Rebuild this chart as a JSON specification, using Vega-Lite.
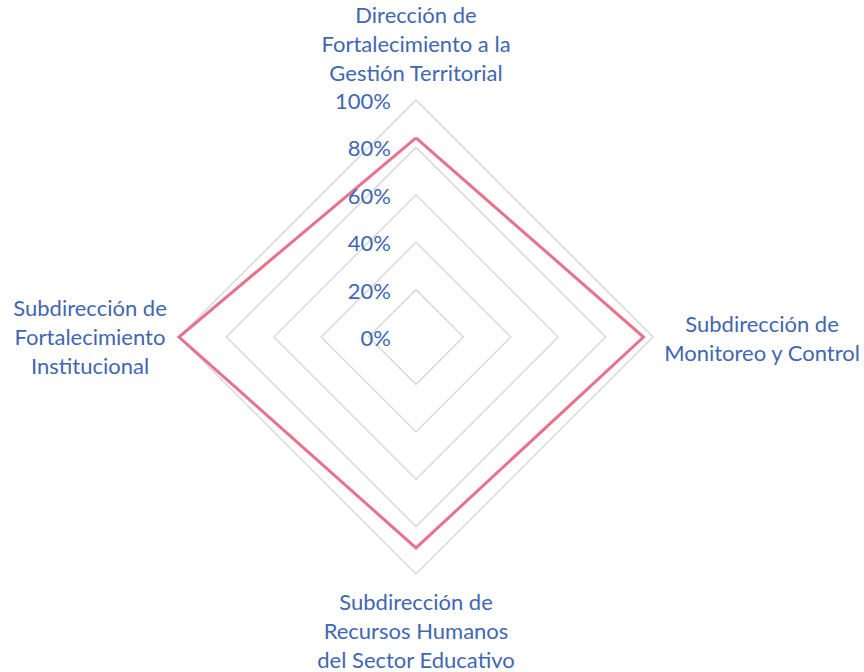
{
  "$schema": "https://vega.github.io/schema/vega-lite/v6.json",
  "autosize": "none",
  "width": 474,
  "height": 474,
  "padding": {"left": 179, "top": 100, "right": 211, "bottom": 98},
  "background": "white",
  "config": {"view": {"stroke": null}, "text": {"font": "Lato", "fontSize": 22, "color": "#3F67B2"}},
  "datasets": {
    "series": [
      {"area": "Dirección de\nFortalecimiento a la\nGestión Territorial", "idx": 0, "value": 0.84},
      {"area": "Subdirección de\nMonitoreo y Control", "idx": 1, "value": 0.96},
      {"area": "Subdirección de\nRecursos Humanos\ndel Sector Educativo", "idx": 2, "value": 0.89},
      {"area": "Subdirección de\nFortalecimiento\nInstitucional", "idx": 3, "value": 1.0},
      {"area": "Dirección de\nFortalecimiento a la\nGestión Territorial", "idx": 4, "value": 0.84}
    ],
    "grid": [
      {"level": 0.2, "idx": 0}, {"level": 0.2, "idx": 1}, {"level": 0.2, "idx": 2}, {"level": 0.2, "idx": 3}, {"level": 0.2, "idx": 4},
      {"level": 0.4, "idx": 0}, {"level": 0.4, "idx": 1}, {"level": 0.4, "idx": 2}, {"level": 0.4, "idx": 3}, {"level": 0.4, "idx": 4},
      {"level": 0.6, "idx": 0}, {"level": 0.6, "idx": 1}, {"level": 0.6, "idx": 2}, {"level": 0.6, "idx": 3}, {"level": 0.6, "idx": 4},
      {"level": 0.8, "idx": 0}, {"level": 0.8, "idx": 1}, {"level": 0.8, "idx": 2}, {"level": 0.8, "idx": 3}, {"level": 0.8, "idx": 4},
      {"level": 1.0, "idx": 0}, {"level": 1.0, "idx": 1}, {"level": 1.0, "idx": 2}, {"level": 1.0, "idx": 3}, {"level": 1.0, "idx": 4}
    ],
    "ticks": [
      {"level": 0}, {"level": 0.2}, {"level": 0.4}, {"level": 0.6}, {"level": 0.8}, {"level": 1.0}
    ]
  },
  "layer": [
    {
      "data": {"name": "grid"},
      "transform": [
        {"calculate": "datum.idx * PI / 2", "as": "angle"},
        {"calculate": "datum.level * sin(datum.angle)", "as": "x"},
        {"calculate": "datum.level * cos(datum.angle)", "as": "y"}
      ],
      "mark": {"type": "line", "stroke": "#D9D9D9", "strokeWidth": 1.5},
      "encoding": {
        "x": {"field": "x", "type": "quantitative", "scale": {"domain": [-1, 1], "nice": false, "zero": false}, "axis": null},
        "y": {"field": "y", "type": "quantitative", "scale": {"domain": [-1, 1], "nice": false, "zero": false}, "axis": null},
        "detail": {"field": "level"},
        "order": {"field": "idx"}
      }
    },
    {
      "data": {"name": "series"},
      "transform": [
        {"calculate": "datum.idx * PI / 2", "as": "angle"},
        {"calculate": "datum.value * sin(datum.angle)", "as": "x"},
        {"calculate": "datum.value * cos(datum.angle)", "as": "y"}
      ],
      "mark": {"type": "line", "stroke": "#E8718D", "strokeWidth": 3},
      "encoding": {
        "x": {"field": "x", "type": "quantitative"},
        "y": {"field": "y", "type": "quantitative"},
        "order": {"field": "idx"}
      }
    },
    {
      "data": {"name": "ticks"},
      "transform": [{"calculate": "0", "as": "x"}],
      "mark": {"type": "text", "align": "right", "baseline": "middle", "dx": -25, "dy": 2},
      "encoding": {
        "x": {"field": "x", "type": "quantitative"},
        "y": {"field": "level", "type": "quantitative"},
        "text": {"field": "level", "type": "quantitative", "format": ".0%"}
      }
    },
    {
      "data": {"name": "series"},
      "transform": [{"filter": "datum.idx == 0"}, {"calculate": "0", "as": "x"}, {"calculate": "1", "as": "y"}],
      "mark": {"type": "text", "align": "center", "baseline": "middle", "lineBreak": "\n", "lineHeight": 29, "dy": -84},
      "encoding": {
        "x": {"field": "x", "type": "quantitative"},
        "y": {"field": "y", "type": "quantitative"},
        "text": {"field": "area"}
      }
    },
    {
      "data": {"name": "series"},
      "transform": [{"filter": "datum.idx == 1"}, {"calculate": "1", "as": "x"}, {"calculate": "0", "as": "y"}],
      "mark": {"type": "text", "align": "center", "baseline": "middle", "lineBreak": "\n", "lineHeight": 29, "dx": 109, "dy": -12},
      "encoding": {
        "x": {"field": "x", "type": "quantitative"},
        "y": {"field": "y", "type": "quantitative"},
        "text": {"field": "area"}
      }
    },
    {
      "data": {"name": "series"},
      "transform": [{"filter": "datum.idx == 2"}, {"calculate": "0", "as": "x"}, {"calculate": "-1", "as": "y"}],
      "mark": {"type": "text", "align": "center", "baseline": "middle", "lineBreak": "\n", "lineHeight": 29, "dy": 29},
      "encoding": {
        "x": {"field": "x", "type": "quantitative"},
        "y": {"field": "y", "type": "quantitative"},
        "text": {"field": "area"}
      }
    },
    {
      "data": {"name": "series"},
      "transform": [{"filter": "datum.idx == 3"}, {"calculate": "-1", "as": "x"}, {"calculate": "0", "as": "y"}],
      "mark": {"type": "text", "align": "center", "baseline": "middle", "lineBreak": "\n", "lineHeight": 29, "dx": -89, "dy": -28},
      "encoding": {
        "x": {"field": "x", "type": "quantitative"},
        "y": {"field": "y", "type": "quantitative"},
        "text": {"field": "area"}
      }
    }
  ]
}
